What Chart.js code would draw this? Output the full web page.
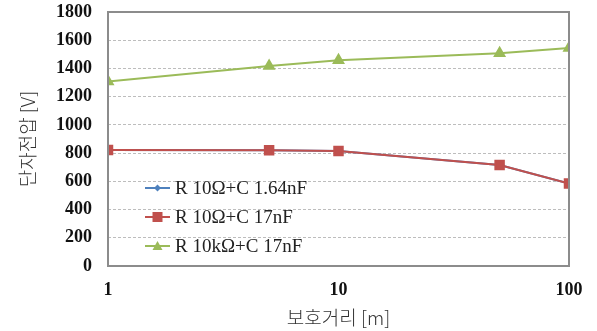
<!DOCTYPE html>
<html>
<head>
<meta charset="utf-8">
<script src="https://cdn.jsdelivr.net/npm/chart.js@4"></script>
<style>
  html, body { margin: 0; padding: 0; background: #fff; }
  #wrap { width: 597px; height: 331px; }
</style>
</head>
<body>
<div id="wrap"><canvas id="myChart" width="597" height="331"></canvas></div>
<script>
const distances = [1, 5, 10, 50, 100];
const seriesLabels = ['R 10\u03A9+C 1.64nF', 'R 10\u03A9+C 17nF', 'R 10k\u03A9+C 17nF'];
const r10c164 = [822, 820, 815, 716, 584];
const r10c17 = [822, 820, 815, 716, 584];
const r10kc17 = [1308, 1418, 1458, 1508, 1545];
const xTicks = [1, 10, 100];

const toPoints = (vals) => vals.map((v, i) => ({ x: distances[i], y: v }));

// legend drawn inside the plot, bottom-left, plus the grey plot frame
const insideLegend = {
    id: 'insideLegend',
    afterDraw(chart) {
        const ctx = chart.ctx;
        const a = chart.chartArea;
        ctx.save();
        ctx.strokeStyle = '#8c8c8c';
        ctx.lineWidth = 2;
        ctx.strokeRect(a.left, a.top, a.right - a.left, a.bottom - a.top);

        const rows = [a.bottom - 78, a.bottom - 49, a.bottom - 20];
        chart.data.datasets.forEach((ds, i) => {
            const y = rows[i];
            const x0 = a.left + 37, x1 = a.left + 62;
            ctx.strokeStyle = ds.borderColor;
            ctx.lineWidth = 2;
            ctx.beginPath();
            ctx.moveTo(x0, y);
            ctx.lineTo(x1, y);
            ctx.stroke();
            ctx.fillStyle = ds.backgroundColor;
            const cx = (x0 + x1) / 2;
            ctx.beginPath();
            if (ds.pointStyle === 'rect') {
                ctx.rect(cx - 5, y - 5, 10, 10);
            } else if (ds.pointStyle === 'triangle') {
                ctx.moveTo(cx, y - 5); ctx.lineTo(cx + 5, y + 4); ctx.lineTo(cx - 5, y + 4);
            } else {
                ctx.moveTo(cx, y - 3.5); ctx.lineTo(cx + 3.5, y); ctx.lineTo(cx, y + 3.5); ctx.lineTo(cx - 3.5, y);
            }
            ctx.closePath();
            ctx.fill();
            ctx.fillStyle = '#222';
            ctx.font = '19px "Liberation Serif"';
            ctx.textBaseline = 'middle';
            ctx.fillText(ds.label, x1 + 5, y + 1);
        });
        ctx.restore();
    }
};

document.addEventListener('DOMContentLoaded', () => {
    const ctx = document.getElementById('myChart').getContext('2d');
    new Chart(ctx, {
        type: 'line',
        data: {
            datasets: [{
                label: seriesLabels[0],
                data: toPoints(r10c164),
                borderColor: '#4F81BD',
                backgroundColor: '#4F81BD',
                pointStyle: 'rectRot',
                pointRadius: 3.5,
                borderWidth: 2,
                order: 3
            }, {
                label: seriesLabels[1],
                data: toPoints(r10c17),
                borderColor: '#C0504D',
                backgroundColor: '#C0504D',
                pointStyle: 'rect',
                pointRadius: 6,
                borderWidth: 2,
                order: 1
            }, {
                label: seriesLabels[2],
                data: toPoints(r10kc17),
                borderColor: '#9BBB59',
                backgroundColor: '#9BBB59',
                pointStyle: 'triangle',
                pointRadius: 5.5,
                borderWidth: 2,
                order: 1
            }]
        },
        options: {
            responsive: false,
            animation: false,
            layout: { padding: { top: 12, right: 28, left: 8, bottom: 0 } },
            plugins: {
                legend: { display: false },
                tooltip: { enabled: false }
            },
            scales: {
                x: {
                    type: 'logarithmic',
                    min: 1,
                    max: 100,
                    afterBuildTicks: (axis) => { axis.ticks = xTicks.map(v => ({ value: v })); },
                    afterFit: (axis) => { axis.height = 65; axis.paddingLeft = 0; axis.paddingRight = 0; },
                    grid: { display: false, drawTicks: false },
                    border: { display: false },
                    ticks: {
                        padding: 14,
                        color: '#111',
                        font: { family: 'Liberation Serif', size: 18, weight: 'bold' },
                        callback: (v) => String(v)
                    },
                    title: {
                        display: true,
                        text: '보호거리 [m]',
                        color: '#333',
                        padding: { top: 0, bottom: 2 },
                        font: { family: 'Noto Sans CJK KR', size: 19, weight: 300 }
                    }
                },
                y: {
                    min: 0,
                    max: 1800,
                    afterFit: (axis) => { axis.width = 100; axis.paddingTop = 0; axis.paddingBottom = 0; },
                    ticks: {
                        stepSize: 200,
                        padding: 16,
                        color: '#111',
                        font: { family: 'Liberation Serif', size: 18, weight: 'bold' },
                        callback: (v) => String(v)
                    },
                    grid: { color: '#bdbdbd', drawTicks: false },
                    border: { display: false, dash: [3, 2] },
                    title: {
                        display: true,
                        text: '단자전압 [V]',
                        color: '#333',
                        padding: { top: 8, bottom: 0 },
                        font: { family: 'Noto Sans CJK KR', size: 19, weight: 300 }
                    }
                }
            }
        },
        plugins: [insideLegend]
    });
});
</script>
</body>
</html>
